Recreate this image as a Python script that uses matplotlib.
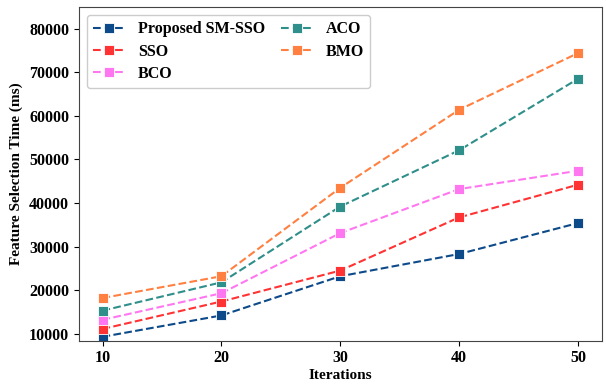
import matplotlib
matplotlib.use("Agg")
import matplotlib.pyplot as plt

iterations = [10, 20, 30, 40, 50]
proposed = [9300, 14200, 23200, 28300, 35400]
sso = [11100, 17400, 24500, 36700, 44200]
bco = [13200, 19300, 33100, 43200, 47400]
aco = [15300, 21800, 39200, 52100, 68500]
bmo = [18200, 23200, 43500, 61400, 74400]

series = [
    ("Proposed SM-SSO", proposed, "#0d4a8a"),
    ("SSO", sso, "#ff3333"),
    ("BCO", bco, "#ff77f0"),
    ("ACO", aco, "#2f8f8a"),
    ("BMO", bmo, "#ff8040"),
]

plt.rcParams["font.family"] = ["Liberation Serif", "DejaVu Serif"]
plt.rcParams["font.weight"] = "bold"

fig, ax = plt.subplots(figsize=(6.06, 3.85), dpi=100)
for name, values, color in series:
    ax.plot(iterations, values, "--", color=color, marker="s", markersize=6.5,
            markeredgecolor="white", markeredgewidth=0.6, linewidth=1.5, label=name)

ax.set_xticks(iterations)
ax.set_xlim(8, 52)
ax.set_ylim(8400, 85000)
ax.set_yticks([10000, 20000, 30000, 40000, 50000, 60000, 70000, 80000])
ax.tick_params(labelsize=11.5)
for lab in ax.get_xticklabels() + ax.get_yticklabels():
    lab.set_fontweight("bold")
ax.set_xlabel("Iterations", fontsize=11, fontweight="bold", labelpad=2)
ax.set_ylabel("Feature Selection Time (ms)", fontsize=11, fontweight="bold")
for sp in ax.spines.values():
    sp.set_color("#444444")

leg = ax.legend(loc="upper left", ncol=2, fontsize=11.5, framealpha=1,
                edgecolor="#cccccc", columnspacing=1.0, handlelength=2.0,
                handletextpad=0.8, labelspacing=0.4)

fig.subplots_adjust(left=0.13, right=0.993, top=0.982, bottom=0.115)
fig.savefig("out.png", dpi=100)
